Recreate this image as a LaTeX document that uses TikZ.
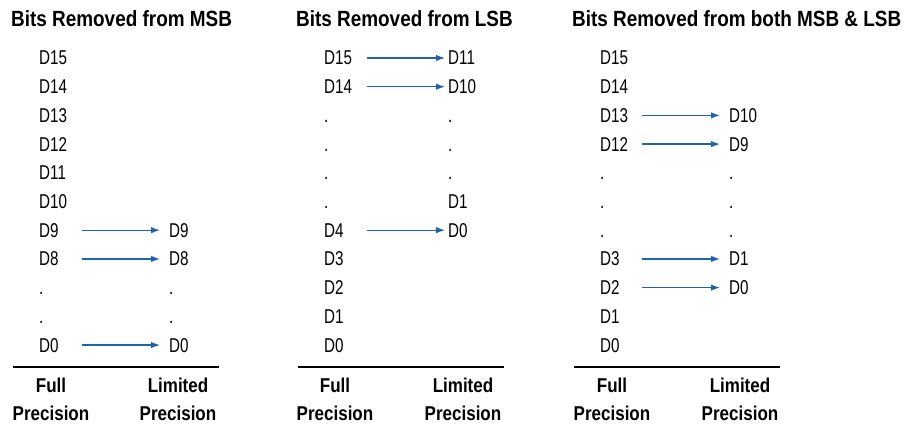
\documentclass[tikz,border=0pt]{standalone}
\usepackage{fontspec}
\setmainfont{Liberation Sans}[FakeStretch=0.76]
\newfontfamily\boldf{Liberation Sans Bold}[FakeStretch=0.86]
\newfontfamily\lblf{Liberation Sans Bold}[FakeStretch=0.85]
\usetikzlibrary{arrows.meta}
\definecolor{arrblue}{HTML}{1F63B0}
\begin{document}
\begin{tikzpicture}[x=1pt,y=-1pt,
  bit/.style={anchor=base west,inner sep=0pt,font=\fontsize{20}{22}\selectfont},
  ttl/.style={anchor=base west,inner sep=0pt,font=\boldf\fontsize{22}{24}\selectfont},
  lbl/.style={anchor=base,inner sep=0pt,font=\lblf\fontsize{20}{22}\selectfont},
  arr/.style={draw=arrblue,line width=1.2pt,-{Latex[length=9pt,width=6.5pt]}},
  rule/.style={draw=black,line width=1.3pt}]
\useasboundingbox (0,0) rectangle (903,425);
% titles
\node[ttl] (t1) at (11,27) {Bits Removed from MSB};
\node[ttl] (t2) at (296,27) {Bits Removed from LSB};
\node[ttl] (t3) at (572,27) {Bits Removed from both MSB \& LSB};
% panel 1
\foreach \i/\t in {0/D15,1/D14,2/D13,3/D12,4/D11,5/D10,6/D9,7/D8,8/.,9/.,10/D0}
  \node[bit] (a\i) at (39,{65+28.7*\i}) {\t};
\foreach \i/\t in {6/D9,7/D8,8/.,9/.,10/D0}
  \node[bit] (b\i) at (169,{65+28.7*\i}) {\t};
\foreach \i in {6,7,10}
  \draw[arr] ([shift={(43,-7)}]a\i.base west) -- ([shift={(-9,-7)}]b\i.base west);
% panel 2
\foreach \i/\t in {0/D15,1/D14,2/.,3/.,4/.,5/.,6/D4,7/D3,8/D2,9/D1,10/D0}
  \node[bit] (c\i) at (324,{65+28.7*\i}) {\t};
\foreach \i/\t in {0/D11,1/D10,2/.,3/.,4/.,5/D1,6/D0}
  \node[bit] (d\i) at (448,{65+28.7*\i}) {\t};
\foreach \i in {0,1,6}
  \draw[arr] ([shift={(43,-7)}]c\i.base west) -- ([shift={(-3,-7)}]d\i.base west);
% panel 3
\foreach \i/\t in {0/D15,1/D14,2/D13,3/D12,4/.,5/.,6/.,7/D3,8/D2,9/D1,10/D0}
  \node[bit] (e\i) at (600,{65+28.7*\i}) {\t};
\foreach \i/\t in {2/D10,3/D9,4/.,5/.,6/.,7/D1,8/D0}
  \node[bit] (f\i) at (729,{65+28.7*\i}) {\t};
\foreach \i in {2,3,7,8}
  \draw[arr] ([shift={(42,-7)}]e\i.base west) -- ([shift={(-9,-7)}]f\i.base west);
% rules
\coordinate (r1a) at (13,367); \coordinate (r1b) at (219,367);
\coordinate (r2a) at (298,367); \coordinate (r2b) at (504,367);
\coordinate (r3a) at (574,367); \coordinate (r3b) at (780,367);
\draw[rule] (r1a) -- (r1b);
\draw[rule] (r2a) -- (r2b);
\draw[rule] (r3a) -- (r3b);
% labels
\node[lbl] (g1) at (51,392) {Full};
\node[lbl] (g2) at (51,420) {Precision};
\node[lbl] (h1) at (178,392) {Limited};
\node[lbl] (h2) at (178,420) {Precision};
\node[lbl] (g3) at (335,392) {Full};
\node[lbl] (g4) at (335,420) {Precision};
\node[lbl] (h3) at (463,392) {Limited};
\node[lbl] (h4) at (463,420) {Precision};
\node[lbl] (g5) at (612,392) {Full};
\node[lbl] (g6) at (612,420) {Precision};
\node[lbl] (h5) at (740,392) {Limited};
\node[lbl] (h6) at (740,420) {Precision};
\end{tikzpicture}
\end{document}
